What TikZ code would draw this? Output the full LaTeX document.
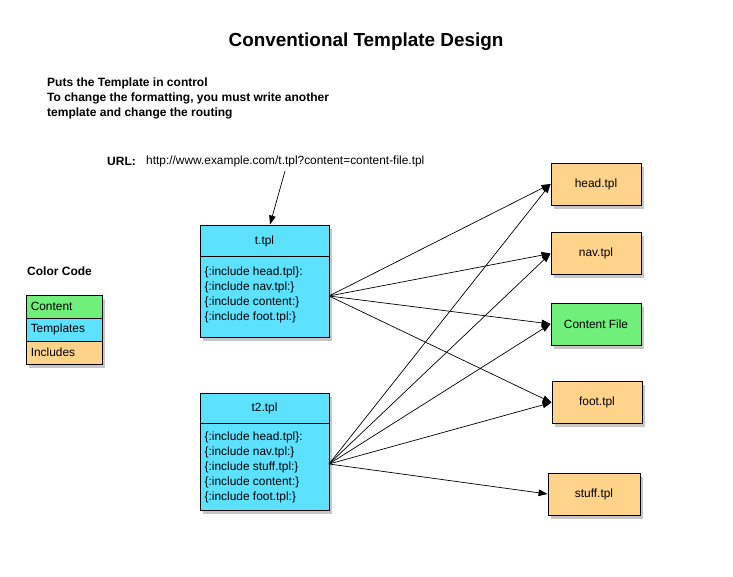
\documentclass[tikz,border=0pt]{standalone}
\usepackage{fontspec}
\setmainfont{Liberation Sans}
\usetikzlibrary{shadows,arrows.meta,calc}
\definecolor{cyanbox}{RGB}{92,226,255}
\definecolor{orangebox}{RGB}{255,211,138}
\definecolor{greenbox}{RGB}{112,240,122}
\begin{document}
\begin{tikzpicture}[x=1pt,y=-1pt,
  shad/.style={drop shadow={shadow xshift=2.5pt,shadow yshift=-3.5pt,opacity=0.45}},
  box/.style={draw=black,line width=0.9pt,shad,inner sep=0pt},
  small/.style={font=\fontsize{11.9}{15}\selectfont},
  arr/.style={-{Triangle[length=9pt,width=6.5pt]},line width=0.7pt},
  inc/.style={box,fill=orangebox,small,minimum width=90pt,minimum height=42pt},
]
\useasboundingbox (0,0) rectangle (733,576);

% title and notes
\node[font=\bfseries\fontsize{18.9}{22}\selectfont] (title) at (366,42) {Conventional Template Design};
\node[anchor=west,align=left,inner sep=0pt,font=\bfseries\fontsize{12}{15}\selectfont] (notes) at (47,98)
  {Puts the Template in control\\To change the formatting, you must write another\\template and change the routing};

% URL
\node[anchor=west,font=\bfseries\fontsize{12}{13}\selectfont,inner sep=0pt] (urllab) at (107,161) {URL:};
\node[anchor=west,small,inner sep=0pt] (url) at (146,161) {http://www.example.com/t.tpl?content=content-file.tpl};
\coordinate (urlpt) at (285,171);

% t.tpl
\node[box,fill=cyanbox,minimum width=129pt,minimum height=112pt] (t) at (264.5,281) {};
\draw[line width=0.9pt] (200,256) -- (329,256);
\node[small] (th) at (264.5,241) {t.tpl};
\node[small,anchor=west,align=left,inner sep=0pt] (tb) at (204.5,295)
  {\{:include head.tpl\}:\\\{:include nav.tpl:\}\\\{:include content:\}\\\{:include foot.tpl:\}};
\coordinate (tout) at (329,296);

% t2.tpl
\node[box,fill=cyanbox,minimum width=129pt,minimum height=117pt] (t2) at (264.5,451.5) {};
\draw[line width=0.9pt] (200,423) -- (329,423);
\node[small] (t2h) at (264.5,408) {t2.tpl};
\node[small,anchor=west,align=left,inner sep=0pt] (t2b) at (204.5,467)
  {\{:include head.tpl\}:\\\{:include nav.tpl:\}\\\{:include stuff.tpl:\}\\\{:include content:\}\\\{:include foot.tpl:\}};
\coordinate (t2out) at (329,464);

% includes
\node[inc] (head) at (596,184) {head.tpl};
\node[inc] (nav) at (596,253.5) {nav.tpl};
\node[inc,fill=greenbox] (content) at (596,324) {Content File};
\node[inc] (foot) at (597,402.5) {foot.tpl};
\node[inc,minimum width=92pt] (stuff) at (594,494) {stuff.tpl};

% legend
\node[anchor=west,inner sep=0pt,font=\bfseries\fontsize{12}{13}\selectfont] (cc) at (27,271) {Color Code};
\node[box,minimum width=76pt,minimum height=69pt] (legend) at (64,329.5) {};
\node[draw=black,line width=0.9pt,fill=greenbox,minimum width=76pt,minimum height=23pt,inner sep=0pt] (lc) at (64,306.5) {};
\node[draw=black,line width=0.9pt,fill=cyanbox,minimum width=76pt,minimum height=23pt,inner sep=0pt] (lt) at (64,329.5) {};
\node[draw=black,line width=0.9pt,fill=orangebox,minimum width=76pt,minimum height=23pt,inner sep=0pt] (li) at (64,352.5) {};
\node[small,anchor=west,inner sep=0pt] at ($(lc.west)+(5,0)$) {Content};
\node[small,anchor=west,inner sep=0pt] at ($(lt.west)+(5,0)$) {Templates};
\node[small,anchor=west,inner sep=0pt] at ($(li.west)+(5,0)$) {Includes};

% connectors
\draw[arr] (urlpt) -- ($(t.north)+(5.5,0)$);
\foreach \n in {head,nav,content,foot}{\draw[arr] (tout) -- (\n.west);}
\foreach \n in {head,nav,content,foot,stuff}{\draw[arr] (t2out) -- (\n.west);}
\end{tikzpicture}
\end{document}
